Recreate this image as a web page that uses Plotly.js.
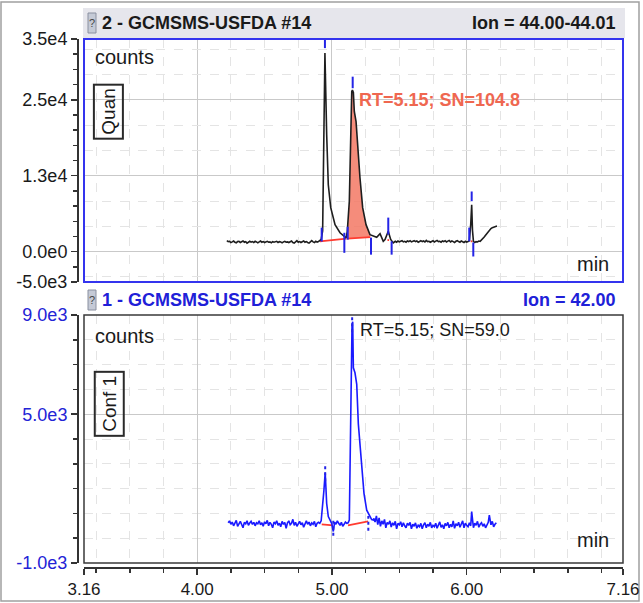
<!DOCTYPE html>
<html>
<head>
<meta charset="utf-8">
<script src="https://cdn.plot.ly/plotly-3.0.1.min.js"></script>
<style>html,body{margin:0;padding:0;background:#fff;}#chart{width:643px;height:603px;}</style>
</head>
<body>
<div id="chart"></div>
<script>
// ---------- DATA ----------
var xTickVals = [3.16, 4.00, 5.00, 6.00, 7.16];
var xTickText = ["3.16", "4.00", "5.00", "6.00", "7.16"];
var quanTickVals = [-5000, 0, 12500, 25000, 35000];
var quanTickText = ["-5.0e3", "0.0e0", "1.3e4", "2.5e4", "3.5e4"];
var confTickVals = [-1000, 5000, 9000];
var confTickText = ["-1.0e3", "5.0e3", "9.0e3"];

// Quantifier ion trace (m/z 44.00-44.01)
var quanX = [4.22,4.23,4.24,4.25,4.26,4.27,4.28,4.29,4.30,4.31,4.32,4.33,4.34,4.35,4.36,4.37,4.38,4.39,4.40,4.41,4.42,4.43,4.44,4.45,4.46,4.47,4.48,4.49,4.50,4.51,4.52,4.53,4.54,4.55,4.56,4.57,4.58,4.59,4.60,4.61,4.62,4.63,4.64,4.65,4.66,4.67,4.68,4.69,4.70,4.71,4.72,4.73,4.74,4.75,4.76,4.77,4.78,4.79,4.80,4.81,4.82,4.83,4.84,4.85,4.86,4.87,4.88,4.89,4.90,4.91,
  4.920,4.931,4.940,4.948,4.961,4.973,4.991,5.023,5.060,5.075,5.085,5.097,5.105,5.114,5.129,5.147,5.152,5.159,5.166,5.179,5.191,5.208,5.228,5.253,5.282,5.319,5.332,5.357,5.381,5.394,5.406,5.418,5.436,5.455,
  5.47,5.48,5.49,5.50,5.51,5.52,5.53,5.54,5.55,5.56,5.57,5.58,5.59,5.60,5.61,5.62,5.63,5.64,5.65,5.66,5.67,5.68,5.69,5.70,5.71,5.72,5.73,5.74,5.75,5.76,5.77,5.78,5.79,5.80,5.81,5.82,5.83,5.84,5.85,5.86,5.87,5.88,5.89,5.90,5.91,5.92,5.93,5.94,5.95,5.96,5.97,5.98,5.99,6.00,6.01,6.02,
  6.030,6.037,6.043,6.05,6.06,6.07,6.08,6.09,6.10,6.11,6.12,6.13,6.14,6.15,6.16,6.17,6.18,6.19,6.20,6.21,6.225];
var quanY = [1800,1650,1700,1500,1600,1750,1550,1450,1650,1700,1500,1600,1750,1550,1650,1400,1600,1700,1550,1650,1500,1700,1600,1450,1600,1750,1550,1650,1500,1600,1700,1550,1600,1450,1650,1550,1600,1700,1500,1650,1600,1450,1600,1700,1550,1600,1500,1650,1750,1500,1400,1600,1800,1550,1650,1500,1600,1750,1550,1650,1500,1400,1600,1800,1600,1500,1700,1550,1650,1900,
  2000,3400,18000,32700,19240,11000,7240,4440,3100,2800,2500,2300,2250,3340,8270,26360,26600,26200,23070,21400,17100,12170,7240,4440,2800,2520,2350,2960,1700,1970,2800,3340,2000,1430,
  1700,1550,1750,1600,1700,1800,1600,1700,1550,1750,1650,1800,1600,1700,1800,1650,1750,1550,1700,1800,1650,1750,1600,1850,1650,1700,1550,1750,1800,1600,1700,1850,1650,1700,1550,1750,1650,1800,1600,1700,1850,1600,1750,1650,1500,1700,1800,1650,1550,1750,1600,1500,1700,1550,1650,1800,
  4500,7700,3500,1700,1500,1650,1600,1750,1700,1900,2150,2400,2700,3000,3300,3600,3800,3950,4050,4150,4200];

// integrated peak (RT 5.15) baseline end points
var quanPeakStart = [5.114, 2140];
var quanPeakEnd = [5.285, 2380];
// red baseline segments [x0, y0, x1, y1]
var quanBaselines = [[4.911, 1700, 5.108, 2140], [5.114, 2140, 5.285, 2380], [5.412, 1900, 5.424, 1900], [6.030, 1700, 6.042, 1700]];
// blue integration markers [x, yFrom, yTo]
var quanMarks = [[4.948, 33500, 35000], [4.924, 1650, 3950], [5.092, -200, 3100], [5.117, 1970, 4100], [5.154, 26900, 28800],
                 [5.290, -500, 2300], [5.418, 2800, 5600], [5.443, -500, 1700], [6.037, 8300, 9900], [6.019, 1700, 3950], [6.049, -800, 1500]];

// Confirmation ion trace (m/z 42.00)
var confX = [4.23,4.24,4.25,4.26,4.27,4.28,4.29,4.30,4.31,4.32,4.33,4.34,4.35,4.36,4.37,4.38,4.39,4.40,4.41,4.42,4.43,4.44,4.45,4.46,4.47,4.48,4.49,4.50,4.51,4.52,4.53,4.54,4.55,4.56,4.57,4.58,4.59,4.60,4.61,4.62,4.63,4.64,4.65,4.66,4.67,4.68,4.69,4.70,4.71,4.72,4.73,4.74,4.75,4.76,4.77,4.78,4.79,4.80,4.81,4.82,4.83,4.84,4.85,4.86,4.87,4.88,4.89,4.90,4.91,
  4.920,4.931,4.940,4.950,4.961,4.973,4.985,4.998,5.010,5.02,5.03,5.04,5.05,5.06,5.07,5.08,5.09,5.10,5.11,5.120,5.129,5.139,5.149,5.154,5.159,5.171,5.184,5.196,5.221,5.238,5.258,5.282,5.295,5.307,
  5.31,5.32,5.33,5.34,5.35,5.36,5.37,5.38,5.39,5.40,5.41,5.42,5.43,5.44,5.45,5.46,5.47,5.48,5.49,5.50,5.51,5.52,5.53,5.54,5.55,5.56,5.57,5.58,5.59,5.60,5.61,5.62,5.63,5.64,5.65,5.66,5.67,5.68,5.69,5.70,5.71,5.72,5.73,5.74,5.75,5.76,5.77,5.78,5.79,5.80,5.81,5.82,5.83,5.84,5.85,5.86,5.87,5.88,5.89,5.90,5.91,5.92,5.93,5.94,5.95,5.96,5.97,5.98,5.99,6.00,6.01,6.02,6.03,
  6.037,6.045,6.05,6.06,6.07,6.08,6.09,6.10,6.11,6.12,6.13,6.14,6.15,6.16,6.168,6.175,6.18,6.19,6.20,6.21,6.22];
var confY = [620,700,560,650,500,620,720,480,600,680,550,420,640,580,700,520,610,680,560,640,500,620,580,700,540,620,480,660,580,720,500,640,560,420,650,580,700,520,600,460,680,560,640,400,620,700,540,600,760,520,640,480,580,680,540,620,440,600,700,560,650,500,620,560,680,460,600,640,600,
  700,1270,1900,2650,1400,870,700,600,270,650,560,700,600,520,640,480,560,650,600,620,730,5000,8600,8730,6870,6670,6200,4600,3000,1800,1130,870,750,730,
  800,650,900,550,820,480,700,560,760,420,640,560,700,450,620,520,680,380,600,540,660,460,620,500,420,600,520,640,380,560,480,620,400,520,460,600,380,540,620,420,560,480,640,420,520,460,600,400,580,660,440,540,380,600,500,640,420,560,460,700,400,580,500,640,440,560,700,420,600,520,460,620,500,
  1070,700,420,600,520,680,440,560,620,480,580,420,560,640,930,620,540,680,460,560,620];

var confBaselines = [[4.924, 560, 5.008, 520], [5.119, 520, 5.268, 680]];
var confMarks = [[5.150, 8300, 9000], [4.950, 2300, 3000], [5.010, 100, 800], [5.270, 300, 900]];

// ---------- BUILD ----------
function segs(list) {
  var x = [], y = [];
  list.forEach(function (s) { x.push(s[0], s[2], null); y.push(s[1], s[3], null); });
  return {x: x, y: y};
}
function marks(list) {
  var x = [], y = [];
  list.forEach(function (m) { x.push(m[0], m[0], null); y.push(m[1], m[2], null); });
  return {x: x, y: y};
}
var fillX = [], fillY = [];
fillX.push(quanPeakStart[0]); fillY.push(quanPeakStart[1]);
for (var i = 0; i < quanX.length; i++) {
  if (quanX[i] > quanPeakStart[0] && quanX[i] < quanPeakEnd[0]) { fillX.push(quanX[i]); fillY.push(quanY[i]); }
}
fillX.push(quanPeakEnd[0]); fillY.push(quanPeakEnd[1]);

var qb = segs(quanBaselines), qm = marks(quanMarks), cb = segs(confBaselines), cm = marks(confMarks);
var BLUE = '#2424e6';
var traces = [
  {x: [], y: [], xaxis: 'x', yaxis: 'y3', type: 'scatter', mode: 'lines', showlegend: false, hoverinfo: 'skip'},
  {x: fillX, y: fillY, xaxis: 'x', yaxis: 'y', type: 'scatter', mode: 'lines', fill: 'toself', fillcolor: 'rgba(243,120,100,0.85)', line: {width: 0}, showlegend: false},
  {x: qb.x, y: qb.y, xaxis: 'x', yaxis: 'y', type: 'scatter', mode: 'lines', line: {color: '#ff3b30', width: 1.8}, showlegend: false},
  {x: quanX, y: quanY, xaxis: 'x', yaxis: 'y', type: 'scatter', mode: 'lines', line: {color: '#1e1e1e', width: 1.6}, showlegend: false},
  {x: qm.x, y: qm.y, xaxis: 'x', yaxis: 'y', type: 'scatter', mode: 'lines', line: {color: BLUE, width: 2}, showlegend: false},
  {x: cb.x, y: cb.y, xaxis: 'x2', yaxis: 'y2', type: 'scatter', mode: 'lines', line: {color: '#ff3b30', width: 1.8}, showlegend: false},
  {x: confX, y: confY, xaxis: 'x2', yaxis: 'y2', type: 'scatter', mode: 'lines', line: {color: '#1a1aff', width: 1.6}, showlegend: false},
  {x: cm.x, y: cm.y, xaxis: 'x2', yaxis: 'y2', type: 'scatter', mode: 'lines', line: {color: BLUE, width: 2, dash: 'dot'}, showlegend: false}
];

var FONT = 'Liberation Sans, Arial, sans-serif';
var quanMinorGrid = [];
for (var k = -1; k <= 8; k++) { if (k % 3 !== 0) quanMinorGrid.push(k * 12500 / 3); }

// paper geometry: plot paper spans px x 77..623, y 39..567
var PW = 546, PH = 528, PB = 567;
function py(p) { return (PB - p) / PH; }
function px(p) { return (p - 77) / PW; }

var xCommon = {
  range: [3.16, 7.16], tickmode: 'array', tickvals: xTickVals, ticktext: xTickText,
  showgrid: true, gridcolor: '#c9c9c9', gridwidth: 1, zeroline: false,
  minor: {dtick: 0.25, tick0: 0, showgrid: true, gridcolor: '#e4e4e4', griddash: 'dash', gridwidth: 1}
};
var layout = {
  width: 643, height: 603,
  margin: {l: 77, r: 20, t: 39, b: 36},
  paper_bgcolor: '#ffffff', plot_bgcolor: '#ffffff',
  font: {family: FONT, size: 16, color: '#1a1a1a'},
  showlegend: false,
  xaxis: Object.assign({}, xCommon, {domain: [px(84), 1], anchor: 'y', showticklabels: false, ticks: '', showline: false}),
  xaxis2: Object.assign({}, xCommon, {domain: [px(84), 1], anchor: 'free', position: 0, showticklabels: true,
    ticks: 'outside', ticklen: 6, tickwidth: 1.5, tickcolor: '#333', showline: true, linecolor: '#333', linewidth: 1.5,
    tickfont: {family: FONT, size: 17, color: '#1a1a1a'},
    minor: {dtick: 0.25, tick0: 0, ticks: 'outside', ticklen: 4, tickwidth: 1.5, tickcolor: '#333', showgrid: true, gridcolor: '#e4e4e4', griddash: 'dash', gridwidth: 1}}),
  yaxis: {
    domain: [py(282), 1], anchor: 'free', position: 0, range: [-5000, 35000],
    tickmode: 'array', tickvals: quanTickVals, ticktext: quanTickText,
    ticks: 'outside', ticklen: 6, tickwidth: 1.5, tickcolor: '#333', showline: true, linecolor: '#333', linewidth: 1.5,
    tickfont: {family: FONT, size: 18, color: '#1a1a1a'},
    showgrid: true, gridcolor: '#c9c9c9', zeroline: false,
    minor: {dtick: 2500, tick0: 0, ticks: 'outside', ticklen: 4, tickwidth: 1.5, tickcolor: '#333', showgrid: false}
  },
  yaxis3: {
    overlaying: 'y', anchor: 'x', range: [-5000, 35000], tickmode: 'array', tickvals: quanMinorGrid,
    showticklabels: false, ticks: '', showline: false, zeroline: false,
    showgrid: true, gridcolor: '#e4e4e4', griddash: 'dash'
  },
  yaxis2: {
    domain: [py(563), py(315)], anchor: 'free', position: 0, range: [-1000, 9000],
    tickmode: 'array', tickvals: confTickVals, ticktext: confTickText,
    ticks: 'outside', ticklen: 6, tickwidth: 1.5, tickcolor: '#333', showline: true, linecolor: '#333', linewidth: 1.5,
    tickfont: {family: FONT, size: 18, color: '#2323d6'},
    showgrid: true, gridcolor: '#c9c9c9', zeroline: false,
    minor: {dtick: 1000, tick0: 0, ticks: 'outside', ticklen: 4, tickwidth: 1.5, tickcolor: '#333', showgrid: true, gridcolor: '#e4e4e4', griddash: 'dash'}
  },
  shapes: [
    {type: 'rect', xref: 'paper', yref: 'paper', x0: px(1), x1: px(639), y0: py(601), y1: py(2), line: {color: '#a0a0a0', width: 1.5}, layer: 'below'},
    {type: 'rect', xref: 'paper', yref: 'paper', x0: px(83), x1: px(625), y0: py(38), y1: py(8), fillcolor: '#e6e6ec', line: {width: 0}, layer: 'below'},
    {type: 'rect', xref: 'paper', yref: 'paper', x0: px(88), x1: px(96), y0: py(33), y1: py(13), fillcolor: '#c5cad6', line: {color: '#8a90a0', width: 1}},
    {type: 'rect', xref: 'paper', yref: 'paper', x0: px(88), x1: px(96), y0: py(310), y1: py(290), fillcolor: '#c5cad6', line: {color: '#8a90a0', width: 1}},
    {type: 'rect', xref: 'x domain', yref: 'y domain', x0: 0, x1: 1, y0: 0, y1: 1, line: {color: '#3434ee', width: 2}},
    {type: 'rect', xref: 'x2 domain', yref: 'y2 domain', x0: 0, x1: 1, y0: 0, y1: 1, line: {color: '#3a3a3a', width: 1.5}}
  ],
  annotations: [
    {xref: 'paper', yref: 'paper', x: px(92), y: py(23), text: '?', showarrow: false, font: {size: 11, color: '#444'}, xanchor: 'center', yanchor: 'middle'},
    {xref: 'paper', yref: 'paper', x: px(92), y: py(300), text: '?', showarrow: false, font: {size: 11, color: '#444'}, xanchor: 'center', yanchor: 'middle'},
    {xref: 'paper', yref: 'paper', x: px(100), y: py(23), text: '<b>2 - GCMSMS-USFDA #14</b>', showarrow: false, xanchor: 'left', yanchor: 'middle', font: {size: 18, color: '#1a1a1a'}},
    {xref: 'paper', yref: 'paper', x: px(618), y: py(23), text: '<b>Ion = 44.00-44.01</b>', showarrow: false, xanchor: 'right', yanchor: 'middle', font: {size: 18, color: '#1a1a1a'}},
    {xref: 'paper', yref: 'paper', x: px(100), y: py(300), text: '<b>1 - GCMSMS-USFDA #14</b>', showarrow: false, xanchor: 'left', yanchor: 'middle', font: {size: 18, color: '#2020d8'}},
    {xref: 'paper', yref: 'paper', x: px(618), y: py(300), text: '<b>Ion = 42.00</b>', showarrow: false, xanchor: 'right', yanchor: 'middle', font: {size: 18, color: '#2020d8'}},
    {xref: 'x domain', yref: 'y domain', x: 0.017, y: 0.926, text: 'counts', showarrow: false, xanchor: 'left', yanchor: 'middle', font: {size: 20}},
    {xref: 'x domain', yref: 'y domain', x: 0.046, y: 0.70, text: 'Quan', textangle: -90, showarrow: false, xanchor: 'center', yanchor: 'middle', font: {size: 19}, bordercolor: '#2a2a2a', borderwidth: 2, borderpad: 3},
    {xref: 'x domain', yref: 'y domain', x: 0.978, y: 0.074, text: 'min', showarrow: false, xanchor: 'right', yanchor: 'middle', font: {size: 20}},
    {xref: 'x domain', yref: 'y domain', x: 0.5065, y: 0.749, text: '<b>RT=5.15; SN=104.8</b>', showarrow: false, xanchor: 'left', yanchor: 'middle', font: {size: 18, color: '#ef6750'}},
    {xref: 'x2 domain', yref: 'y2 domain', x: 0.017, y: 0.916, text: 'counts', showarrow: false, xanchor: 'left', yanchor: 'middle', font: {size: 20}},
    {xref: 'x2 domain', yref: 'y2 domain', x: 0.046, y: 0.641, text: 'Conf 1', textangle: -90, showarrow: false, xanchor: 'center', yanchor: 'middle', font: {size: 19}, bordercolor: '#2a2a2a', borderwidth: 2, borderpad: 3},
    {xref: 'x2 domain', yref: 'y2 domain', x: 0.978, y: 0.092, text: 'min', showarrow: false, xanchor: 'right', yanchor: 'middle', font: {size: 20}},
    {xref: 'x2 domain', yref: 'y2 domain', x: 0.508, y: 0.94, text: 'RT=5.15; SN=59.0', showarrow: false, xanchor: 'left', yanchor: 'middle', font: {size: 18, color: '#1a1a1a'}}
  ]
};
Plotly.newPlot('chart', traces, layout, {staticPlot: true, displayModeBar: false});
</script>
</body>
</html>
